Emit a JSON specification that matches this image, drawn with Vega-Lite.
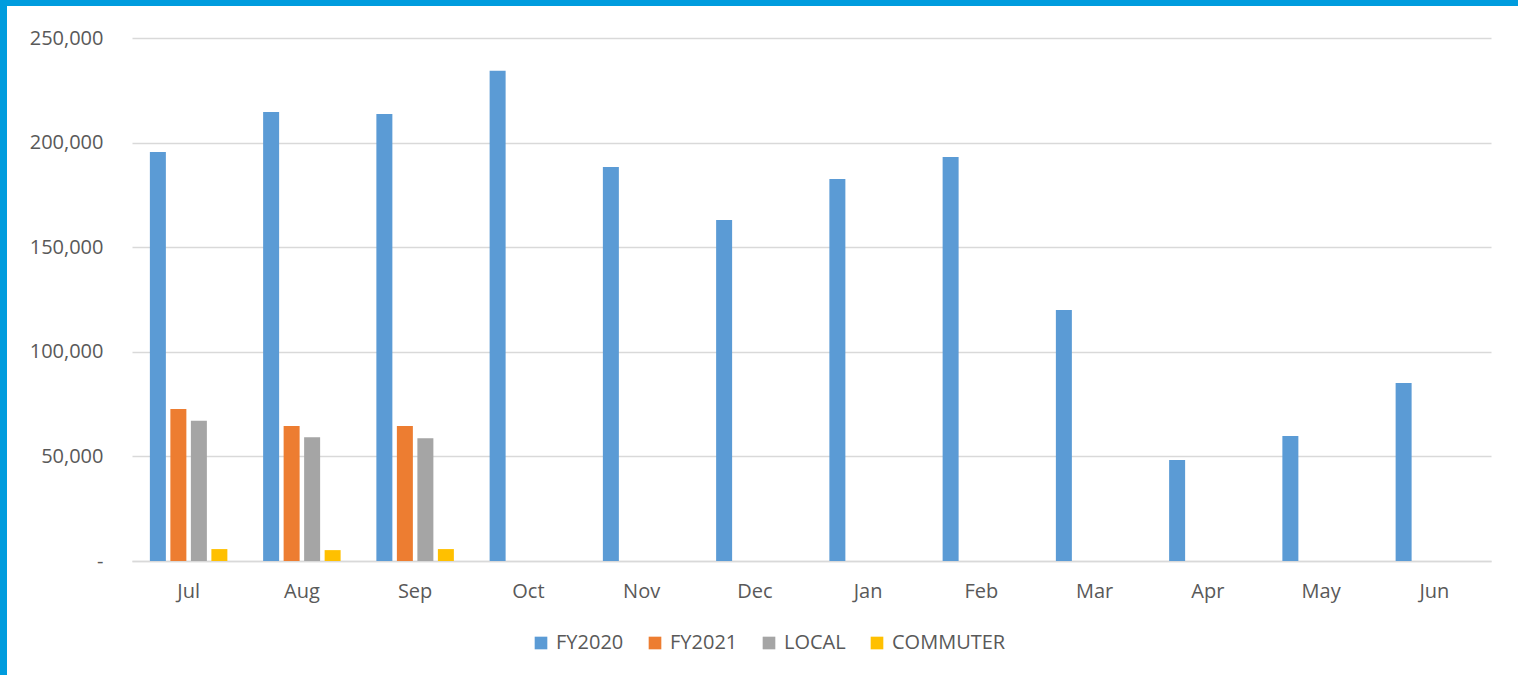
{
  "$schema": "https://vega.github.io/schema/vega-lite/v6.json",
  "background": "white",
  "padding": 0,
  "bounds": "flush",
  "spacing": 0,
  "config": {
    "font": "Open Sans",
    "view": {"stroke": null},
    "concat": {"spacing": 0}
  },
  "datasets": {
    "ridership": [
      {"month": "Jul", "series": "FY2020", "value": 195500},
      {"month": "Aug", "series": "FY2020", "value": 214600},
      {"month": "Sep", "series": "FY2020", "value": 213700},
      {"month": "Oct", "series": "FY2020", "value": 234300},
      {"month": "Nov", "series": "FY2020", "value": 188300},
      {"month": "Dec", "series": "FY2020", "value": 163000},
      {"month": "Jan", "series": "FY2020", "value": 182600},
      {"month": "Feb", "series": "FY2020", "value": 193100},
      {"month": "Mar", "series": "FY2020", "value": 120000},
      {"month": "Apr", "series": "FY2020", "value": 48300},
      {"month": "May", "series": "FY2020", "value": 59800},
      {"month": "Jun", "series": "FY2020", "value": 85100},
      {"month": "Jul", "series": "FY2021", "value": 72700},
      {"month": "Aug", "series": "FY2021", "value": 64500},
      {"month": "Sep", "series": "FY2021", "value": 64500},
      {"month": "Jul", "series": "LOCAL", "value": 67000},
      {"month": "Aug", "series": "LOCAL", "value": 59200},
      {"month": "Sep", "series": "LOCAL", "value": 58700},
      {"month": "Jul", "series": "COMMUTER", "value": 5700},
      {"month": "Aug", "series": "COMMUTER", "value": 5200},
      {"month": "Sep", "series": "COMMUTER", "value": 5700}
    ]
  },
  "vconcat": [
    {
      "width": 1518,
      "height": 6,
      "data": {"values": []},
      "mark": "rect",
      "encoding": {},
      "view": {"fill": "#009CDE", "stroke": null}
    },
    {
      "bounds": "flush",
      "spacing": 125,
      "hconcat": [
        {
          "width": 7,
          "height": 669,
          "data": {"values": []},
          "mark": "rect",
          "encoding": {},
          "view": {"fill": "#009CDE", "stroke": null}
        },
        {
          "bounds": "flush",
          "spacing": 31,
          "vconcat": [
            {
              "width": 1359,
              "height": 1,
              "data": {"values": []},
              "mark": "rect",
              "encoding": {},
              "view": {"stroke": null}
            },
            {
              "width": 1359,
              "height": 523,
              "data": {"name": "ridership"},
              "mark": {"type": "bar"},
              "encoding": {
                "x": {
                  "field": "month",
                  "type": "nominal",
                  "sort": ["Jul", "Aug", "Sep", "Oct", "Nov", "Dec", "Jan", "Feb", "Mar", "Apr", "May", "Jun"],
                  "scale": {"paddingInner": 0, "paddingOuter": 0},
                  "axis": {
                    "title": null,
                    "labelAngle": 0,
                    "ticks": false,
                    "labelPadding": 20,
                    "labelFontSize": 20,
                    "labelColor": "#595959",
                    "domainColor": "#D9D9D9",
                    "domainWidth": 1.5,
                    "grid": false
                  }
                },
                "xOffset": {
                  "field": "series",
                  "type": "nominal",
                  "scale": {"domain": ["FY2020", "FY2021", "LOCAL", "COMMUTER"], "paddingInner": 0.22, "paddingOuter": 0.872}
                },
                "y": {
                  "field": "value",
                  "type": "quantitative",
                  "scale": {"domain": [0, 250000], "nice": false},
                  "axis": {
                    "title": null,
                    "values": [0, 50000, 100000, 150000, 200000, 250000],
                    "labelExpr": "datum.value === 0 ? '-\u00a0\u00a0' : format(datum.value, ',')",
                    "domain": false,
                    "ticks": false,
                    "labelPadding": 29,
                    "labelFontSize": 20,
                    "labelColor": "#595959",
                    "gridColor": "#D9D9D9",
                    "gridWidth": 1.5
                  }
                },
                "color": {
                  "field": "series",
                  "type": "nominal",
                  "scale": {
                    "domain": ["FY2020", "FY2021", "LOCAL", "COMMUTER"],
                    "range": ["#5B9BD5", "#ED7D31", "#A5A5A5", "#FFC000"]
                  },
                  "legend": {
                    "title": null,
                    "orient": "none",
                    "direction": "horizontal",
                    "legendX": 531,
                    "legendY": 633,
                    "padding": 0,
                    "symbolType": "square",
                    "symbolSize": 160,
                    "symbolStrokeWidth": 0,
                    "labelFontSize": 20,
                    "labelColor": "#595959",
                    "labelOffset": 5,
                    "columnPadding": 21
                  }
                }
              }
            }
          ]
        }
      ]
    }
  ]
}
